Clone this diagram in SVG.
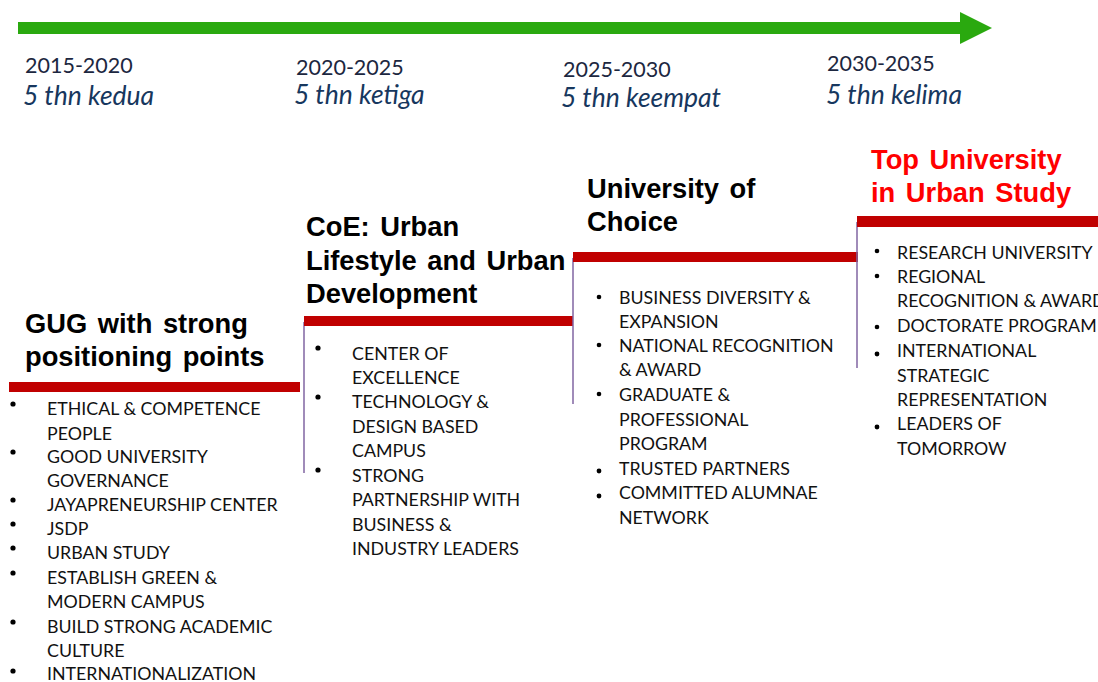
<svg xmlns="http://www.w3.org/2000/svg" width="1098" height="682" viewBox="0 0 1098 682">
<style>
.yr{font-family:Lato,"Liberation Sans",sans-serif;font-size:21.5px;fill:#1c2740}
.per{font-family:Lato,"Liberation Sans",sans-serif;font-size:26.5px;font-style:italic;fill:#17375e}
.ttl{font-family:"Liberation Sans",Arial,sans-serif;font-size:27.3px;font-weight:bold;fill:#000;word-spacing:3px}
.ttlr{fill:#ff0000}
.itm{font-family:Lato,"Liberation Sans",sans-serif;font-size:17.8px;fill:#111}
.bar{fill:#c00000}
.vl{stroke:#8064a2;stroke-width:1.5}
.dot{fill:#000}
</style>
<rect width="1098" height="682" fill="#fff"/>
<g id="timeline">
<polygon points="18,22 960,22 960,12 992,28 960,44 960,34 18,34" fill="#2aa90f"/>
<text class="yr" x="25" y="73">2015-2020</text>
<text class="per" x="23" y="105">5 thn kedua</text>
<text class="yr" x="296" y="75">2020-2025</text>
<text class="per" x="294" y="104">5 thn ketiga</text>
<text class="yr" x="563" y="77">2025-2030</text>
<text class="per" x="561" y="107">5 thn keempat</text>
<text class="yr" x="827" y="71">2030-2035</text>
<text class="per" x="826" y="104">5 thn kelima</text>
</g>
<g id="step1">
<text class="ttl" x="25" y="333">GUG with strong</text>
<text class="ttl" x="25" y="366">positioning points</text>
<rect class="bar" x="9" y="382" width="291" height="10"/>
<g class="dot">
<circle cx="13" cy="404" r="2.6"/><circle cx="13" cy="452" r="2.6"/><circle cx="13" cy="500" r="2.6"/><circle cx="13" cy="524" r="2.6"/><circle cx="13" cy="548" r="2.6"/><circle cx="13" cy="573" r="2.6"/><circle cx="13" cy="622" r="2.6"/><circle cx="13" cy="671" r="2.6"/>
</g>
<text class="itm" x="47" y="415">ETHICAL &amp; COMPETENCE</text>
<text class="itm" x="47" y="440">PEOPLE</text>
<text class="itm" x="47" y="463">GOOD UNIVERSITY</text>
<text class="itm" x="47" y="487">GOVERNANCE</text>
<text class="itm" x="47" y="511">JAYAPRENEURSHIP CENTER</text>
<text class="itm" x="47" y="535">JSDP</text>
<text class="itm" x="47" y="559">URBAN STUDY</text>
<text class="itm" x="47" y="584">ESTABLISH GREEN &amp;</text>
<text class="itm" x="47" y="608">MODERN CAMPUS</text>
<text class="itm" x="47" y="633">BUILD STRONG ACADEMIC</text>
<text class="itm" x="47" y="657">CULTURE</text>
<text class="itm" x="47" y="680">INTERNATIONALIZATION</text>
</g>
<g id="step2">
<line class="vl" x1="304" y1="322" x2="304" y2="473"/>
<rect class="bar" x="304" y="316" width="269" height="10"/>
<text class="ttl" x="306" y="236">CoE: Urban</text>
<text class="ttl" x="306" y="270">Lifestyle and Urban</text>
<text class="ttl" x="306" y="303">Development</text>
<g class="dot">
<circle cx="318" cy="348" r="2.6"/><circle cx="318" cy="397" r="2.6"/><circle cx="318" cy="470" r="2.6"/>
</g>
<text class="itm" x="352" y="360">CENTER OF</text>
<text class="itm" x="352" y="384">EXCELLENCE</text>
<text class="itm" x="352" y="408">TECHNOLOGY &amp;</text>
<text class="itm" x="352" y="433">DESIGN BASED</text>
<text class="itm" x="352" y="457">CAMPUS</text>
<text class="itm" x="352" y="482">STRONG</text>
<text class="itm" x="352" y="506">PARTNERSHIP WITH</text>
<text class="itm" x="352" y="531">BUSINESS &amp;</text>
<text class="itm" x="352" y="555">INDUSTRY LEADERS</text>
</g>
<g id="step3">
<line class="vl" x1="573" y1="258" x2="573" y2="404"/>
<rect class="bar" x="573" y="252" width="285" height="10"/>
<text class="ttl" x="587" y="198">University of</text>
<text class="ttl" x="587" y="231">Choice</text>
<g class="dot">
<circle cx="599" cy="297" r="2.3"/><circle cx="599" cy="345" r="2.3"/><circle cx="599" cy="394" r="2.3"/><circle cx="599" cy="471" r="2.4"/><circle cx="599" cy="496" r="2.4"/>
</g>
<text class="itm" x="619" y="304">BUSINESS DIVERSITY &amp;</text>
<text class="itm" x="619" y="328">EXPANSION</text>
<text class="itm" x="619" y="352">NATIONAL RECOGNITION</text>
<text class="itm" x="619" y="376">&amp; AWARD</text>
<text class="itm" x="619" y="401">GRADUATE &amp;</text>
<text class="itm" x="619" y="426">PROFESSIONAL</text>
<text class="itm" x="619" y="450">PROGRAM</text>
<text class="itm" x="619" y="475">TRUSTED PARTNERS</text>
<text class="itm" x="619" y="499">COMMITTED ALUMNAE</text>
<text class="itm" x="619" y="524">NETWORK</text>
</g>
<g id="step4">
<line class="vl" x1="857" y1="222" x2="857" y2="368"/>
<rect class="bar" x="857" y="216" width="241" height="11"/>
<text class="ttl ttlr" x="871" y="169">Top University</text>
<text class="ttl ttlr" x="871" y="202">in Urban Study</text>
<g class="dot">
<circle cx="877" cy="251" r="2.3"/><circle cx="877" cy="276" r="2.3"/><circle cx="877" cy="327" r="2.3"/><circle cx="877" cy="354" r="2.4"/><circle cx="877" cy="427" r="2.4"/>
</g>
<text class="itm" x="897" y="259">RESEARCH UNIVERSITY</text>
<text class="itm" x="897" y="283">REGIONAL</text>
<text class="itm" x="897" y="307">RECOGNITION &amp; AWARD</text>
<text class="itm" x="897" y="332">DOCTORATE PROGRAM</text>
<text class="itm" x="897" y="357">INTERNATIONAL</text>
<text class="itm" x="897" y="382">STRATEGIC</text>
<text class="itm" x="897" y="406">REPRESENTATION</text>
<text class="itm" x="897" y="430">LEADERS OF</text>
<text class="itm" x="897" y="455">TOMORROW</text>
</g>
</svg>
